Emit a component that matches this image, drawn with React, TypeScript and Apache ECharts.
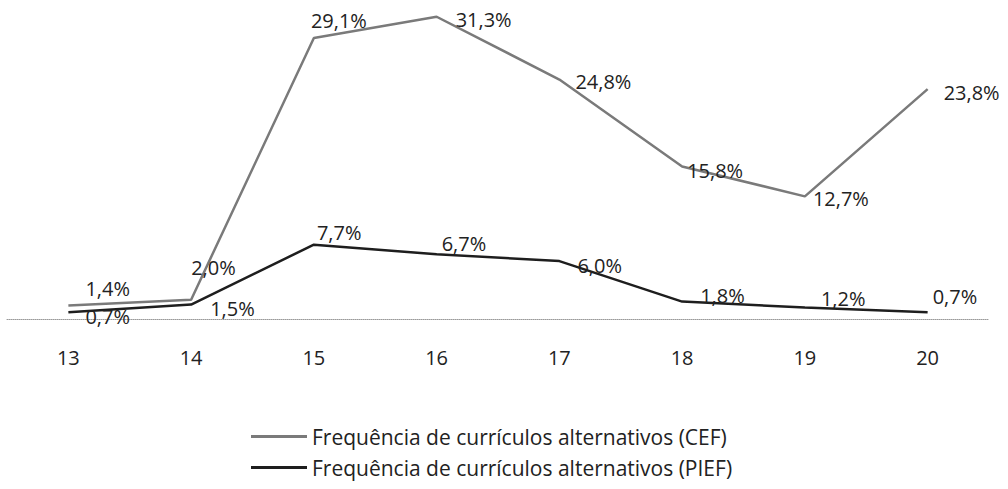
import React, { useEffect, useRef } from "react";
import * as echarts from "echarts";

const categories = ["13", "14", "15", "16", "17", "18", "19", "20"];
const cefValues = [1.4, 2.0, 29.1, 31.3, 24.8, 15.8, 12.7, 23.8];
const piefValues = [0.7, 1.5, 7.7, 6.7, 6.0, 1.8, 1.2, 0.7];
const seriesNames = [
  "Frequência de currículos alternativos (CEF)",
  "Frequência de currículos alternativos (PIEF)",
];

// label placement (style only)
const cefLabelOffsets: [number, number][] = [
  [12, -17], [-5, -32], [-8, -18], [14, 3], [11, 2], [0, 4], [3, 2], [11, 3],
];
const piefLabelOffsets: [number, number][] = [
  [12, 4], [14, 4], [-2, -12], [0, -11], [13, 4], [13, -6], [11, -9], [0, -16],
];

const fmt = (v: number) => v.toFixed(1).replace(".", ",") + "%";

export default function App() {
  const ref = useRef<HTMLDivElement>(null);
  useEffect(() => {
    if (!ref.current) return;
    document.body.style.margin = "0";
    const chart = echarts.init(ref.current, null, { renderer: "svg" });
    const font = "'Open Sans', sans-serif";
    const mk = (vals: number[], offs: [number, number][]) =>
      vals.map((v, i) => ({
        value: v,
        label: { position: "right", offset: offs[i] },
      }));
    const labelStyle = {
      show: true,
      color: "#222",
      fontFamily: font,
      fontSize: 20,
      formatter: (p: any) => fmt(p.value),
    };
    chart.setOption({
      animation: false,
      backgroundColor: "#ffffff",
      grid: { left: 7, right: 19, top: 10, bottom: 170, containLabel: false },
      xAxis: {
        type: "category",
        data: categories,
        boundaryGap: true,
        axisLine: { show: true, lineStyle: { color: "#9a9a9a", type: "dotted", width: 1 } },
        axisTick: { show: false },
        axisLabel: { color: "#222", fontFamily: font, fontSize: 20, margin: 28 },
      },
      yAxis: {
        type: "value",
        min: 0,
        max: 32,
        show: false,
        splitLine: { show: false },
      },
      legend: {
        orient: "vertical",
        left: 246,
        top: 421,
        icon: "rect",
        itemWidth: 56,
        itemHeight: 3,
        itemGap: 10,
        textStyle: { color: "#222", fontFamily: font, fontSize: 21, lineHeight: 20 },
        data: seriesNames,
      },
      series: [
        {
          name: seriesNames[0],
          type: "line",
          data: mk(cefValues, cefLabelOffsets),
          symbol: "circle",
          symbolSize: 0.01,
          showSymbol: true,
          lineStyle: { color: "#7a7a7a", width: 2.5 },
          itemStyle: { color: "#7a7a7a" },
          label: labelStyle,
        },
        {
          name: seriesNames[1],
          type: "line",
          data: mk(piefValues, piefLabelOffsets),
          symbol: "circle",
          symbolSize: 0.01,
          showSymbol: true,
          lineStyle: { color: "#1e1e1e", width: 2.5 },
          itemStyle: { color: "#1e1e1e" },
          label: labelStyle,
        },
      ],
    });
    return () => chart.dispose();
  }, []);
  return <div ref={ref} style={{ width: 1008, height: 489 }} />;
}
